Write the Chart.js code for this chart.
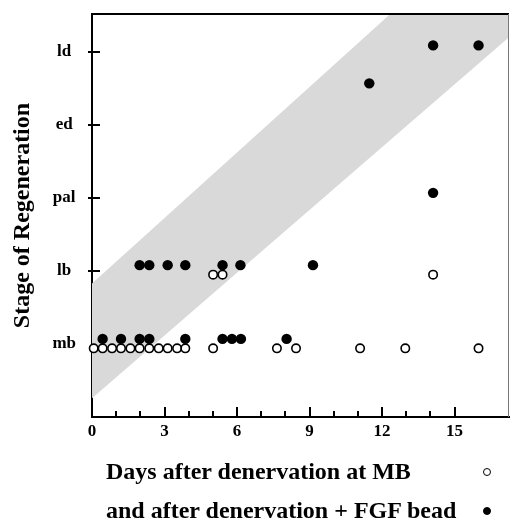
<!DOCTYPE html>
<html lang="en">
<head>
<meta charset="UTF-8">
<meta name="viewport" content="width=device-width, initial-scale=1.0">
<script src="https://cdn.jsdelivr.net/npm/chart.js"></script>
<style>
  html, body { margin: 0; padding: 0; background: #fff; }
  #wrap { position: relative; width: 510px; height: 523px; overflow: hidden; }
  #regenChart { display: block; }
  .key { position: absolute; left: 106px; font: bold 24px "Liberation Serif", "Times New Roman", serif; color: #000; white-space: nowrap; line-height: 1; }
  .dot { position: absolute; width: 8px; height: 8px; border-radius: 50%; box-sizing: border-box; border: 1.5px solid #000; }
</style>
</head>
<body>
<div id="wrap">
  <canvas id="regenChart" width="510" height="523"></canvas>
  <div class="key" style="top:459px">Days after denervation at MB</div>
  <div class="key" style="top:498px">and after denervation + FGF bead</div>
  <span class="dot" style="left:483px;top:468px;background:#fff"></span>
  <span class="dot" style="left:483px;top:507px;background:#000"></span>
</div>

<script>
// stage names for y = 0..4
const stageLabels = ['mb', 'lb', 'pal', 'ed', 'ld'];

// denervation at MB only (open circles)
const openX = [0.07, 0.44, 0.83, 1.2, 1.59, 1.97, 2.37, 2.76, 3.13, 3.52, 3.86, 5.01, 7.65, 8.44, 11.09, 12.96, 15.99,
               5.01, 5.40, 14.11];
const openY = [-0.06, -0.06, -0.06, -0.06, -0.06, -0.06, -0.06, -0.06, -0.06, -0.06, -0.06, -0.06, -0.06, -0.06, -0.06, -0.06, -0.06,
               0.95, 0.95, 0.95];

// denervation + FGF bead (filled circles)
const fgfX = [0.44, 1.2, 1.97, 2.37, 3.86, 5.40, 5.79, 6.16, 8.05,
              1.97, 2.37, 3.13, 3.86, 5.40, 6.14, 9.14,
              14.11, 11.47, 14.11, 15.99];
const fgfY = [0.07, 0.07, 0.07, 0.07, 0.07, 0.07, 0.07, 0.07, 0.07,
              1.08, 1.08, 1.08, 1.08, 1.08, 1.08, 1.08,
              2.07, 3.57, 4.09, 4.09];

// shaded band (normal regeneration range)
const bandX = [-0.16, 17.25];
const bandUpper = [0.78, 5.99];
const bandLower = [-0.79, 4.2];

const serif = '"Liberation Serif", "Times New Roman", serif';

function pts(xs, ys) {
    return xs.map((x, i) => ({ x: x, y: ys[i] }));
}

// inward x ticks, crossing y ticks, top/right frame
const frameTicks = {
    id: 'frameTicks',
    afterDraw(chart) {
        const { ctx, chartArea: a, scales } = chart;
        ctx.save();
        ctx.strokeStyle = '#000';
        ctx.lineWidth = 2;
        ctx.beginPath();
        scales.x.ticks.forEach(t => {
            if (t.value <= 0 || t.value > 15) return;
            const px = Math.round(scales.x.getPixelForValue(t.value));
            const len = t.value % 3 === 0 ? 10 : 6;
            ctx.moveTo(px, a.bottom);
            ctx.lineTo(px, a.bottom - len);
        });
        scales.y.ticks.forEach(t => {
            if (t.value < 1 || t.value > 4) return;
            const py = Math.round(scales.y.getPixelForValue(t.value));
            ctx.moveTo(a.left - 4, py);
            ctx.lineTo(a.left + 8, py);
        });
        ctx.moveTo(a.left - 1, a.top);
        ctx.lineTo(a.right, a.top);
        ctx.stroke();
        ctx.lineWidth = 1;
        ctx.strokeStyle = '#777';
        ctx.beginPath();
        ctx.moveTo(a.right - 0.5, a.top);
        ctx.lineTo(a.right - 0.5, a.bottom);
        ctx.stroke();
        ctx.restore();
    }
};

const ctx = document.getElementById('regenChart').getContext('2d');
const regenChart = new Chart(ctx, {
    type: 'scatter',
    data: {
        datasets: [
            {
                label: 'Days after denervation at MB',
                data: pts(openX, openY),
                pointRadius: 4.2,
                pointHoverRadius: 4.2,
                pointBackgroundColor: '#fff',
                pointBorderColor: '#000',
                pointBorderWidth: 1.6,
                clip: false,
                order: 1
            },
            {
                label: 'and after denervation + FGF bead',
                data: pts(fgfX, fgfY),
                pointRadius: 5.2,
                pointHoverRadius: 5.2,
                pointBackgroundColor: '#000',
                pointBorderColor: '#000',
                pointBorderWidth: 0,
                clip: false,
                order: 0
            },
            {
                type: 'line',
                label: 'upper',
                data: pts(bandX, bandUpper),
                borderWidth: 0,
                pointRadius: 0,
                backgroundColor: '#d9d9d9',
                fill: '+1',
                clip: { left: 4, top: 0, right: 0, bottom: 0 },
                order: 10
            },
            {
                type: 'line',
                label: 'lower',
                data: pts(bandX, bandLower),
                borderWidth: 0,
                pointRadius: 0,
                fill: false,
                clip: { left: 4, top: 0, right: 0, bottom: 0 },
                order: 11
            }
        ]
    },
    options: {
        responsive: false,
        animation: false,
        events: [],
        layout: { autoPadding: false, padding: { top: 14, right: 1, bottom: 76, left: 0 } },
        plugins: {
            legend: { display: false },
            tooltip: { enabled: false }
        },
        scales: {
            x: {
                type: 'linear',
                min: 0,
                max: 17.25,
                grid: { display: false, drawTicks: false },
                border: { display: true, color: '#000', width: 2 },
                afterFit: s => { s.height = 30; s.paddingLeft = 0; s.paddingRight = 0; },
                ticks: {
                    stepSize: 1,
                    autoSkip: false,
                    maxRotation: 0,
                    padding: 0,
                    color: '#000',
                    font: { family: serif, size: 17, weight: 'bold', lineHeight: 1.76 },
                    callback: v => (v % 3 === 0 ? String(v) : '')
                }
            },
            y: {
                type: 'linear',
                min: -1,
                max: 4.52,
                grid: { display: false, drawTicks: false },
                border: { display: true, color: '#000', width: 2 },
                afterFit: s => { s.width = 92; s.paddingTop = 0; s.paddingBottom = 0; },
                title: {
                    display: true,
                    text: 'Stage of Regeneration',
                    color: '#000',
                    padding: { top: 8, bottom: 0 },
                    font: { family: serif, size: 24, weight: 'bold' }
                },
                ticks: {
                    stepSize: 1,
                    autoSkip: false,
                    includeBounds: false,
                    crossAlign: 'center',
                    padding: 16,
                    color: '#000',
                    font: { family: serif, size: 17, weight: 'bold' },
                    callback: v => stageLabels[v] ?? ''
                }
            }
        }
    },
    plugins: [frameTicks]
});
</script>
</body>
</html>
